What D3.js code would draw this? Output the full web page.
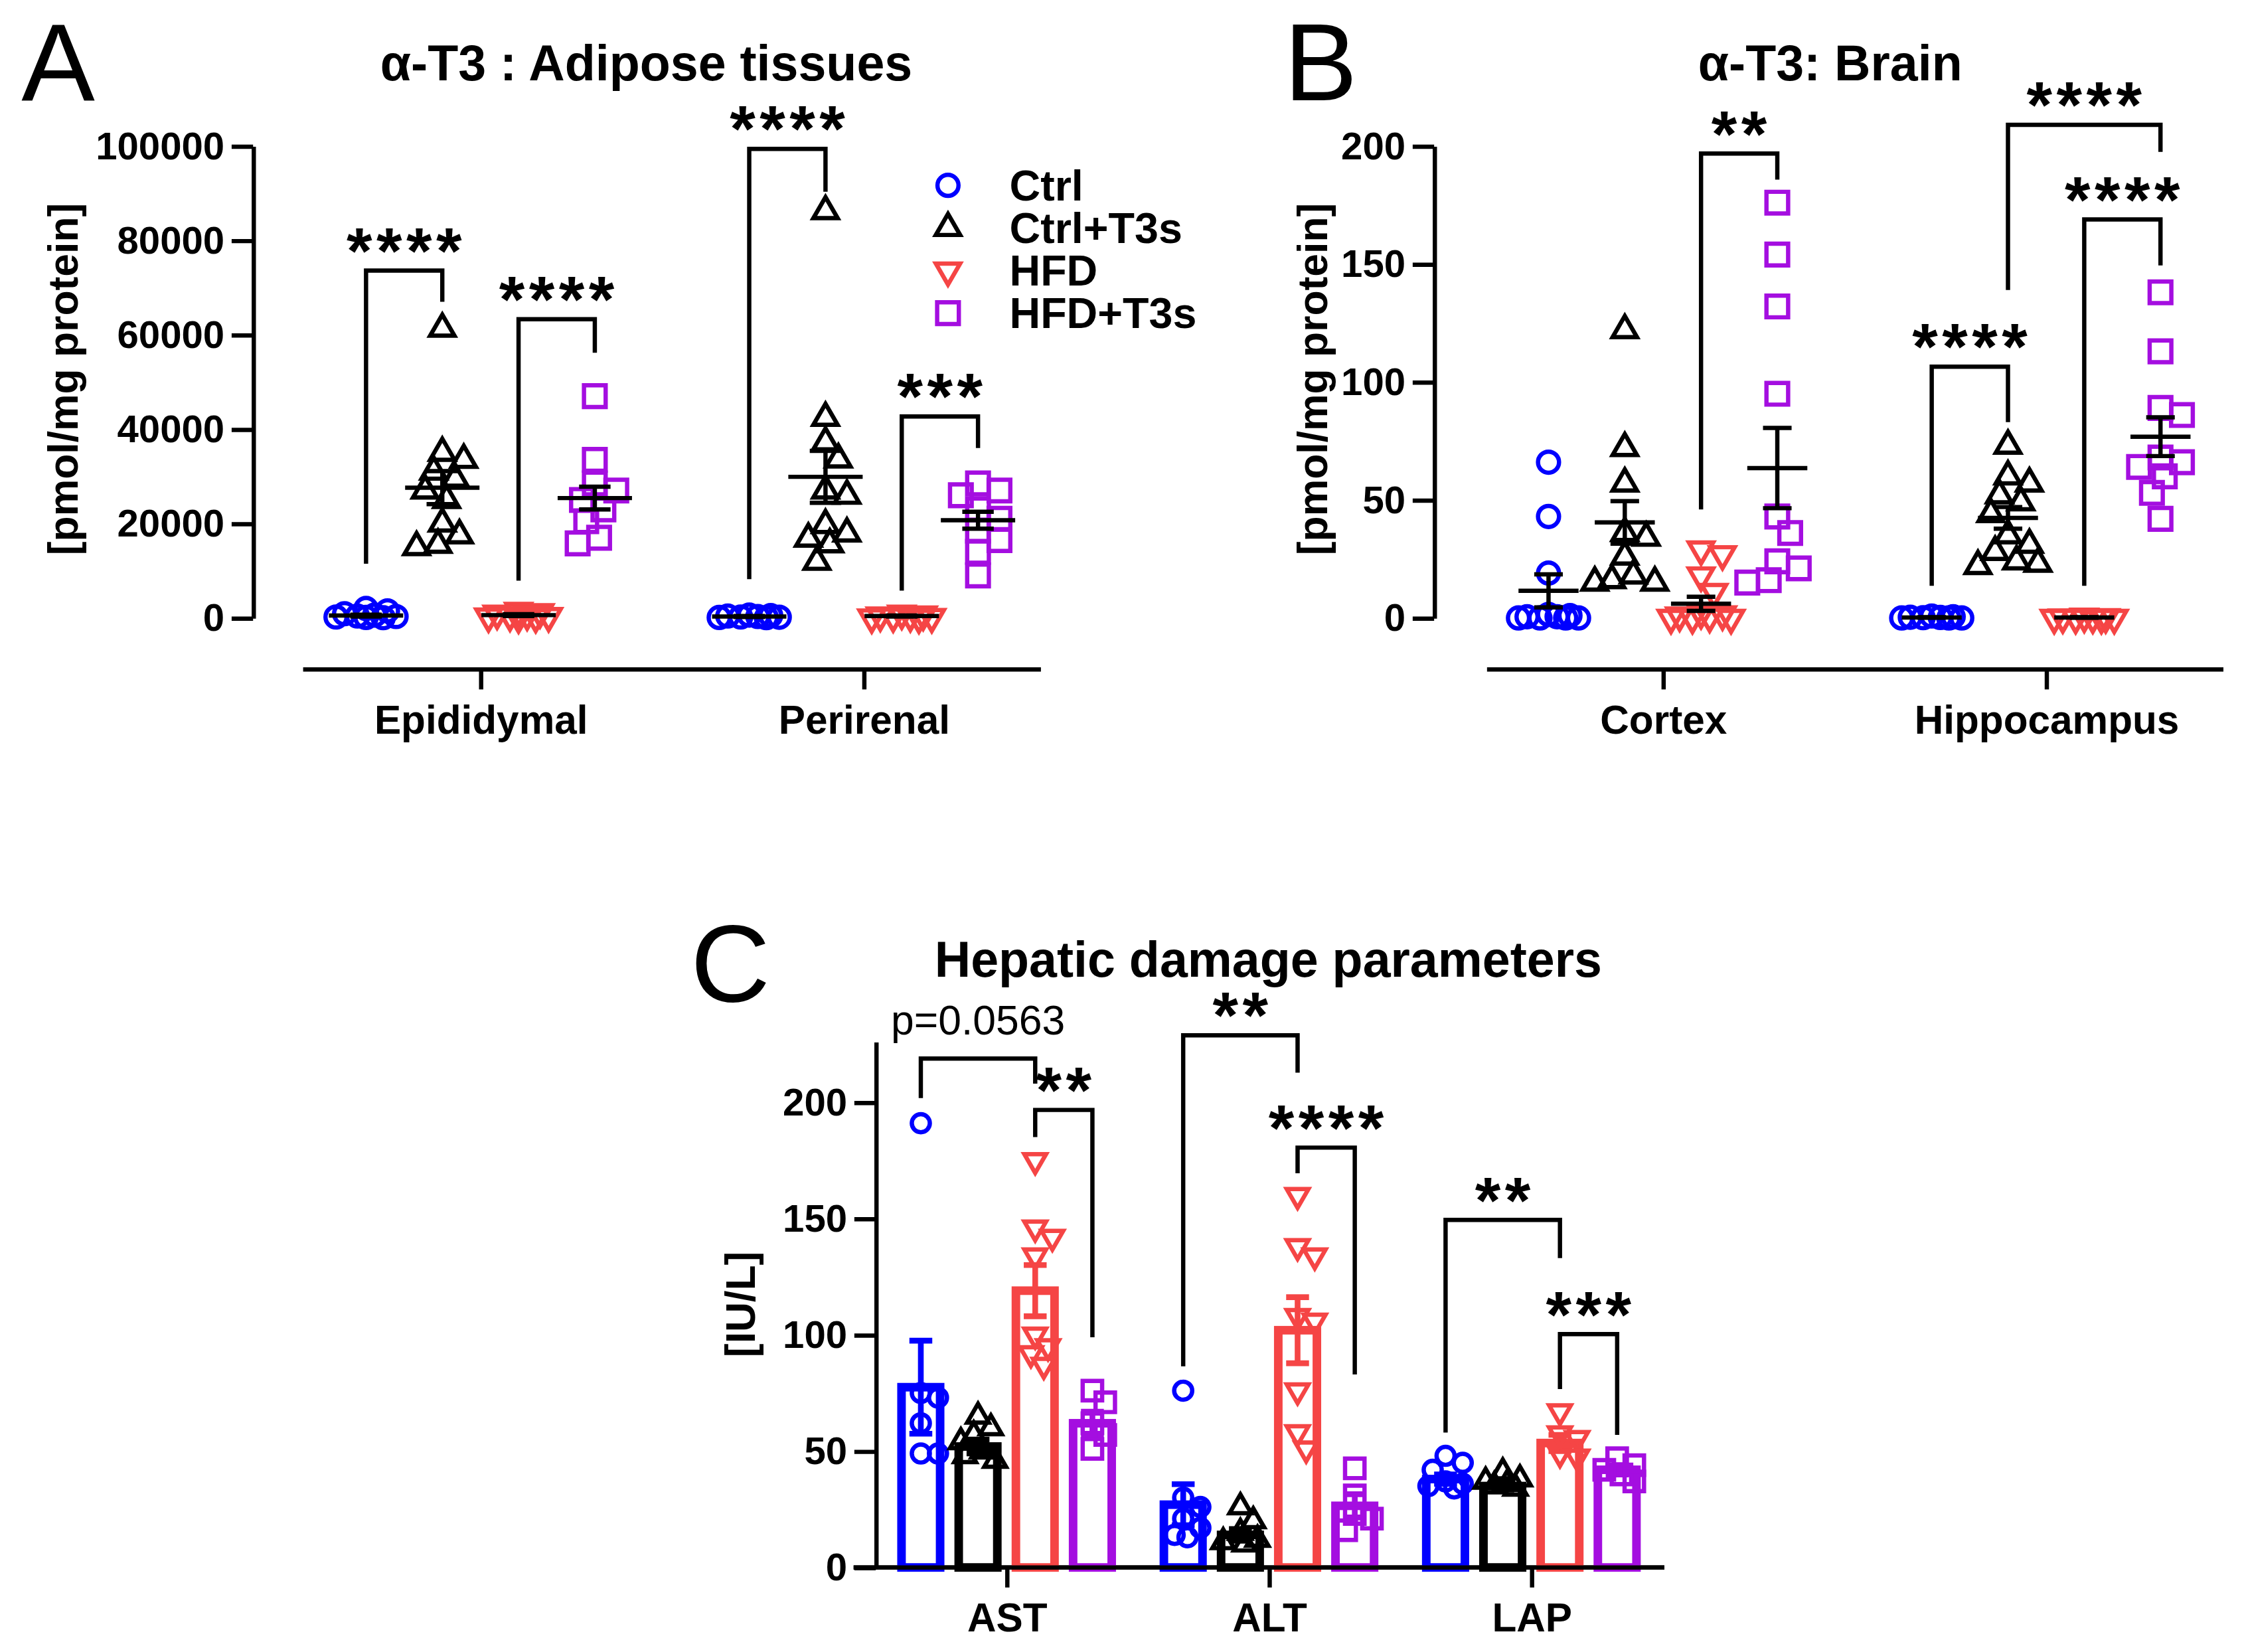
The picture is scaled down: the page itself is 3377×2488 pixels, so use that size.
<!DOCTYPE html>
<html>
<head>
<meta charset="utf-8">
<script src="https://cdn.jsdelivr.net/npm/d3@7"></script>
<style>
  body { margin: 0; background: #fff; }
  svg { display: block; }
  text { font-family: "Liberation Sans", Arial, Helvetica, sans-serif; }
</style>
</head>
<body>
<svg id="fig"></svg>
<script>
// ---- groups ----
var groups = ["Ctrl", "Ctrl+T3s", "HFD", "HFD+T3s"];
var groupColors = ["#0000ff", "#000000", "#f54545", "#a40ee0"];

// ---- A: alpha-T3 in adipose tissues [pmol/mg protein] ----
var adiposeCats = ["Epididymal", "Perirenal"];
var adiposeCtrl = [[2000, 1500, 900, 600, 400, 300, 200, 100, 50], [600, 500, 400, 300, 200, 150, 100, 50]];
var adiposeCtrlT3s = [[61300, 35000, 33500, 31000, 29500, 27000, 25000, 20000, 17500, 15500, 15000],
                      [86200, 42400, 37200, 33600, 27000, 25900, 19700, 17900, 16800, 15600, 11900]];
var adiposeHFD = [[1500, 1200, 900, 700, 500, 400, 300, 200, 100], [900, 700, 500, 400, 300, 200, 100, 50]];
var adiposeHFDT3s = [[47000, 33500, 28500, 27000, 25000, 23000, 20500, 17000, 15800],
                     [28500, 27000, 26000, 23000, 21000, 18500, 16500, 14000, 9000]];
var adiposeMean = [[500, 27600, 600, 25400], [300, 29900, 400, 20700]];
var adiposeSem = [[200, 3500, 200, 2400], [100, 5500, 100, 1800]];
var adiposeTicks = [0, 20000, 40000, 60000, 80000, 100000];
// comparisons: category, group a, group b, bracket top, leg a bottom, leg b bottom, label
var adiposeComps = [
  [0, 0, 1, 73600, 11500, 67000, "****"],
  [0, 2, 3, 63300, 7900, 56200, "****"],
  [1, 0, 1, 99400, 8200, 90300, "****"],
  [1, 2, 3, 42700, 5800, 36000, "***"]
];

// ---- B: alpha-T3 in brain ----
var brainCats = ["Cortex", "Hippocampus"];
var brainCtrl = [[66, 43, 19, 1.5, 1, 0.5, 0.5, 0, 0, 0, 0], [0.8, 0.5, 0.3, 0.2, 0.1, 0, 0, 0]];
var brainCtrlT3s = [[122, 72, 57, 36, 34, 26, 18, 16, 15, 15], [73, 60, 57, 52, 49, 44, 35, 31, 28, 24, 23, 22]];
var brainHFD = [[29, 27, 18, 11, 2, 1.5, 1, 0.5, 0, 0, 0], [0.5, 0.3, 0.2, 0.1, 0, 0, 0, 0]];
var brainHFDT3s = [[176, 154, 132, 95, 43, 36, 24, 21, 16, 15], [138, 113, 89, 86, 68, 66, 64, 60, 53, 42]];
var brainMean = [[11.5, 40.5, 6, 63.5], [0.2, 42.4, 0.2, 76.8]];
var brainSem = [[7, 9, 3, 17], [0.1, 4.6, 0.1, 8.2]];
var brainTicks = [0, 50, 100, 150, 200];
var brainComps = [
  [0, 2, 3, 196.8, 46, 185.8, "**"],
  [1, 0, 1, 106.5, 13.6, 83, "****"],
  [1, 1, 3, 209, 139, 197.5, "****"],
  [1, 2, 3, 168.9, 13.6, 149.4, "****"]
];

// ---- C: hepatic damage parameters [IU/L] ----
var liverCats = ["AST", "ALT", "LAP"];
var liverCtrl = [[191, 75, 73, 62, 49, 49], [76, 30, 26, 21, 17, 14, 13], [48, 45, 42, 37, 36, 35, 34]];
var liverCtrlT3s = [[65, 60, 57, 54, 50, 48, 46], [26, 20, 15, 12, 11, 10], [41, 38, 37, 36, 35, 34]];
var liverHFD = [[175, 146, 142, 134, 100, 95, 92, 87], [160, 138, 134, 108, 106, 76, 58, 51], [67, 57.5, 55.5, 49, 47.5]];
var liverHFDT3s = [[76, 71, 62, 57, 51], [42.6, 31, 23, 21, 16], [47, 44, 42, 40, 37]];
var liverMean = [[77.5, 52, 119, 62], [27, 14, 102, 26.5], [38, 35, 53.5, 42]];
var liverSem = [[20, 3, 11, 5], [8.8, 2.5, 14.2, 5], [2, 1.5, 3.5, 2]];
var liverTicks = [0, 50, 100, 150, 200];
var liverComps = [
  [0, 0, 2, 218.8, 201.8, 208, "p=0.0563"],
  [0, 2, 3, 196.7, 185, 99, "**"],
  [1, 0, 2, 228.8, 86.5, 212.7, "**"],
  [1, 2, 3, 180.5, 169.5, 83, "****"],
  [2, 0, 2, 149.4, 58, 133, "**"],
  [2, 2, 3, 100.3, 76.7, 57, "***"]
];

var FONT = '"Liberation Sans", Arial, Helvetica, sans-serif';

var svg = d3.select("#fig")
    .attr("width", 3377)
    .attr("height", 2488)
    .attr("viewBox", "0 0 1568 1155");

function symbolFor(gi, sizes) {
  var types = [d3.symbolCircle, d3.symbolTriangle, d3.symbolTriangle, d3.symbolSquare];
  return d3.symbol().type(types[gi]).size(sizes[gi])();
}

// simple beeswarm: spread points sideways so they do not sit on top of each other
function swarmOffsets(ys, minDist, step, maxOff) {
  var placed = [];
  var cands = [0];
  for (var o = step; o <= maxOff; o += step) cands.push(o, -o);
  return ys.map(function(py) {
    var best = 0, bestDist = -1;
    for (var i = 0; i < cands.length; i++) {
      var md = Infinity;
      placed.forEach(function(p) {
        var dd = Math.hypot(p[0] - cands[i], p[1] - py);
        if (dd < md) md = dd;
      });
      if (md >= minDist) { best = cands[i]; bestDist = md; break; }
      if (md > bestDist) { bestDist = md; best = cands[i]; }
    }
    placed.push([best, py]);
    return best;
  });
}

function styleAxis(sel, size) {
  sel.attr("font-family", FONT).attr("font-size", size).attr("font-weight", "bold");
  sel.selectAll("path, line").attr("stroke", "#000").attr("stroke-width", 3);
  sel.selectAll("text").attr("fill", "#000");
}

function drawComps(g, comps, px, y) {
  comps.forEach(function(c) {
    var xa = px(c[0], c[1]), xb = px(c[0], c[2]);
    var yt = y(c[3]);
    g.append("path")
      .attr("d", "M" + xa + "," + y(c[4]) + "V" + yt + "H" + xb + "V" + y(c[5]))
      .attr("fill", "none")
      .attr("stroke", "#000")
      .attr("stroke-width", 3);
    if (c[6].charAt(0) === "p") {
      g.append("text")
        .attr("x", (xa + xb) / 2)
        .attr("y", yt - 17)
        .attr("text-anchor", "middle")
        .attr("font-size", 29)
        .text(c[6]);
    } else {
      g.append("text")
        .attr("x", (xa + xb) / 2 + 1.5)
        .attr("y", yt + 2)
        .attr("text-anchor", "middle")
        .attr("font-size", 46)
        .attr("font-weight", "bold")
        .attr("letter-spacing", 3)
        .text(c[6]);
    }
  });
}

function drawFrame(p, y, xc) {
  var g = svg.append("g");
  g.append("text").attr("x", p.letterX).attr("y", p.letterY)
    .attr("font-size", 77).text(p.letter);
  g.append("text").attr("x", p.titleX).attr("y", p.titleY)
    .attr("text-anchor", "middle").attr("font-size", 35).attr("font-weight", "bold")
    .text(p.title);
  g.append("text")
    .attr("transform", "translate(" + p.yTitleX + "," + p.yTitleY + ") rotate(-90)")
    .attr("text-anchor", "middle").attr("dy", "0.35em")
    .attr("font-size", 29).attr("font-weight", "bold")
    .text(p.yTitle);

  g.append("g")
    .attr("transform", "translate(" + p.yAxisX + ",0)")
    .call(d3.axisLeft(y).tickValues(p.ticks).tickSize(15).tickSizeOuter(0)
      .tickPadding(5).tickFormat(d3.format("d")))
    .call(styleAxis, 27);

  var xa = g.append("g")
    .attr("transform", "translate(0," + p.xAxisY + ")")
    .call(d3.axisBottom(xc).tickSize(14).tickPadding(11))
    .call(styleAxis, 28);
  xa.select(".domain").remove();
  xa.append("line")
    .attr("x1", p.xLine[0]).attr("x2", p.xLine[1])
    .attr("stroke", "#000").attr("stroke-width", 3);
  return g;
}

function scatterPanel(p) {
  var y = d3.scaleLinear().domain(p.yDomain).range(p.yRange);
  var xc = d3.scalePoint().domain(p.cats).range(p.catRange);
  var xg = d3.scalePoint().domain(groups).range(p.groupRange);
  function px(ci, gi) { return xc(p.cats[ci]) + xg(groups[gi]); }

  var g = drawFrame(p, y, xc);
  drawComps(g, p.comps, px, y);

  p.series.forEach(function(ser, gi) {
    ser.forEach(function(vals, ci) {
      var offs = swarmOffsets(vals.map(y), 14, 3, 22);
      g.append("g").selectAll("path")
        .data(vals)
        .join("path")
        .attr("d", symbolFor(gi, p.symSizes))
        .attr("transform", function(d, i) {
          return "translate(" + (px(ci, gi) + offs[i]) + "," + y(d) + ")" + (gi === 2 ? " rotate(180)" : "");
        })
        .attr("fill", "none")
        .attr("stroke", groupColors[gi])
        .attr("stroke-width", 3);
    });
  });

  // mean +/- SEM
  p.mean.forEach(function(row, ci) {
    row.forEach(function(m, gi) {
      var cx = px(ci, gi), s = p.sem[ci][gi];
      var eg = g.append("g").attr("stroke", "#000").attr("stroke-width", 3);
      eg.append("line").attr("x1", cx - p.meanW / 2).attr("x2", cx + p.meanW / 2)
        .attr("y1", y(m)).attr("y2", y(m));
      eg.append("line").attr("x1", cx).attr("x2", cx).attr("y1", y(m - s)).attr("y2", y(m + s));
      [m - s, m + s].forEach(function(v) {
        eg.append("line").attr("x1", cx - p.capW / 2).attr("x2", cx + p.capW / 2)
          .attr("y1", y(v)).attr("y2", y(v));
      });
    });
  });
  return g;
}

function barPanel(p) {
  var y = d3.scaleLinear().domain(p.yDomain).range(p.yRange);
  var xc = d3.scalePoint().domain(p.cats).range(p.catRange);
  var xg = d3.scalePoint().domain(groups).range(p.groupRange);
  function px(ci, gi) { return xc(p.cats[ci]) + xg(groups[gi]); }

  var g = drawFrame(p, y, xc);

  p.mean.forEach(function(row, ci) {
    row.forEach(function(m, gi) {
      var cx = px(ci, gi), s = p.sem[ci][gi];
      g.append("rect")
        .attr("x", cx - p.barW / 2).attr("width", p.barW)
        .attr("y", y(m)).attr("height", y(0) - y(m))
        .attr("fill", "#fff")
        .attr("stroke", groupColors[gi]).attr("stroke-width", 6);
      var eg = g.append("g").attr("stroke", groupColors[gi]).attr("stroke-width", 4);
      eg.append("line").attr("x1", cx).attr("x2", cx).attr("y1", y(m - s)).attr("y2", y(m + s));
      [m - s, m + s].forEach(function(v) {
        eg.append("line").attr("x1", cx - p.capW / 2).attr("x2", cx + p.capW / 2)
          .attr("y1", y(v)).attr("y2", y(v));
      });
    });
  });

  p.series.forEach(function(ser, gi) {
    ser.forEach(function(vals, ci) {
      var offs = swarmOffsets(vals.map(y), 12, 3, 14);
      g.append("g").selectAll("path")
        .data(vals)
        .join("path")
        .attr("d", symbolFor(gi, p.symSizes))
        .attr("transform", function(d, i) {
          return "translate(" + (px(ci, gi) + offs[i]) + "," + y(d) + ")" + (gi === 2 ? " rotate(180)" : "");
        })
        .attr("fill", "none")
        .attr("stroke", groupColors[gi])
        .attr("stroke-width", 3);
    });
  });

  drawComps(g, p.comps, px, y);
  // x axis line drawn again on top of the bar bottoms
  g.append("line").attr("x1", p.xLine[0]).attr("x2", p.xLine[1])
    .attr("y1", p.xAxisY).attr("y2", p.xAxisY)
    .attr("stroke", "#000").attr("stroke-width", 3);
  return g;
}

var scatterSyms = [170, 125, 125, 230];

scatterPanel({
  letter: "A", letterX: 15, letterY: 70,
  title: "\u03b1-T3 : Adipose tissues", titleX: 452, titleY: 56,
  yTitle: "[pmol/mg protein]", yTitleX: 44, yTitleY: 265,
  cats: adiposeCats,
  series: [adiposeCtrl, adiposeCtrlT3s, adiposeHFD, adiposeHFDT3s],
  mean: adiposeMean, sem: adiposeSem, comps: adiposeComps,
  yDomain: [0, 100000], yRange: [432, 102], ticks: adiposeTicks,
  yAxisX: 177, xAxisY: 468, xLine: [212, 728],
  catRange: [336, 604], groupRange: [-80, 80],
  meanW: 52, capW: 22, symSizes: scatterSyms
});

scatterPanel({
  letter: "B", letterX: 898, letterY: 70,
  title: "\u03b1-T3: Brain", titleX: 1280, titleY: 56,
  yTitle: "[pmol/mg protein]", yTitleX: 918, yTitleY: 265,
  cats: brainCats,
  series: [brainCtrl, brainCtrlT3s, brainHFD, brainHFDT3s],
  mean: brainMean, sem: brainSem, comps: brainComps,
  yDomain: [0, 200], yRange: [432, 102], ticks: brainTicks,
  yAxisX: 1003, xAxisY: 468, xLine: [1040, 1555],
  catRange: [1163, 1431], groupRange: [-80, 80],
  meanW: 42, capW: 20, symSizes: scatterSyms
});

barPanel({
  letter: "C", letterX: 483, letterY: 700,
  title: "Hepatic damage parameters", titleX: 887, titleY: 683,
  yTitle: "[IU/L]", yTitleX: 518, yTitleY: 912,
  cats: liverCats,
  series: [liverCtrl, liverCtrlT3s, liverHFD, liverHFDT3s],
  mean: liverMean, sem: liverSem, comps: liverComps,
  yDomain: [0, 226], yRange: [1096, 728.4], ticks: liverTicks,
  yAxisX: 612.5, xAxisY: 1096, xLine: [597, 1164],
  catRange: [704, 1071], groupRange: [-60, 60],
  barW: 27, capW: 16, symSizes: [125, 100, 100, 185]
});

// legend (panel A)
var legend = svg.append("g").attr("transform", "translate(663,129.5)");
groups.forEach(function(name, gi) {
  var row = legend.append("g").attr("transform", "translate(0," + gi * 29.8 + ")");
  row.append("path")
    .attr("d", symbolFor(gi, scatterSyms))
    .attr("transform", gi === 2 ? "rotate(180)" : null)
    .attr("fill", "none")
    .attr("stroke", groupColors[gi])
    .attr("stroke-width", 3);
  row.append("text")
    .attr("x", 43).attr("y", 10.5)
    .attr("font-size", 30).attr("font-weight", "bold")
    .text(name);
});
</script>
</body>
</html>
